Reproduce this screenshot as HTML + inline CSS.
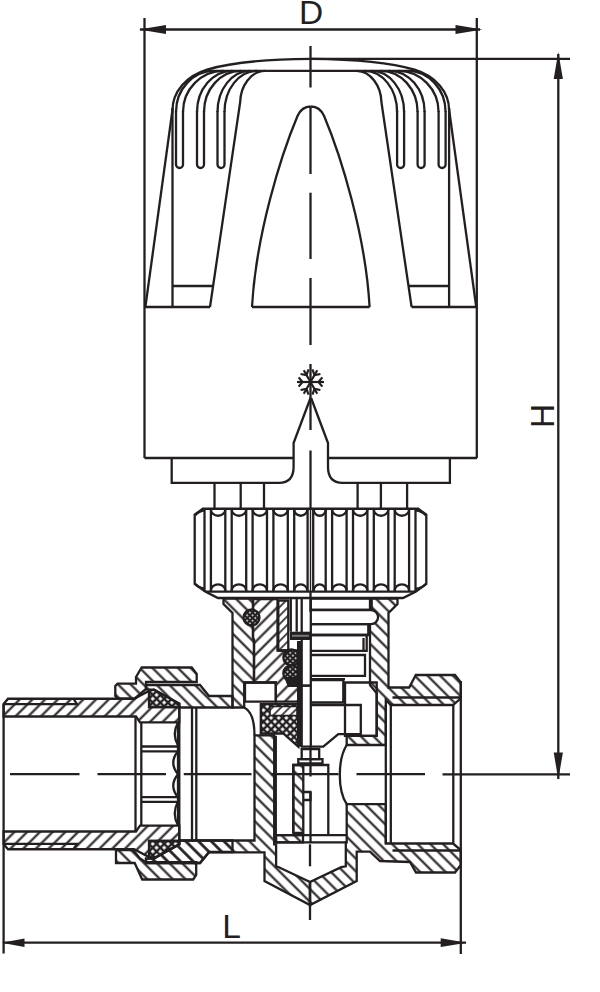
<!DOCTYPE html>
<html><head><meta charset="utf-8"><style>
html,body{margin:0;padding:0;background:#fff;}
svg{display:block;}
</style></head><body>
<svg width="600" height="992" viewBox="0 0 600 992">
<g stroke="#231f20" stroke-width="2.3" fill="none"><line x1="140" y1="29.5" x2="480" y2="29.5"/><line x1="144.5" y1="18" x2="144.5" y2="458"/><line x1="476.8" y1="18" x2="476.8" y2="458"/><line x1="310.5" y1="58.8" x2="570" y2="58.8"/><line x1="558.3" y1="54" x2="558.3" y2="779"/><line x1="442.5" y1="774.3" x2="570" y2="774.3"/><line x1="3" y1="942.7" x2="466" y2="942.7"/><line x1="3.6" y1="704" x2="3.6" y2="953.5"/><line x1="460.8" y1="681" x2="460.8" y2="954"/></g>
<polygon points="139,29.5 166.0,25.1 166.0,33.9" fill="#231f20"/>
<polygon points="482.5,29.5 455.5,33.9 455.5,25.1" fill="#231f20"/>
<polygon points="558.3,52 562.9,79.0 553.6999999999999,79.0" fill="#231f20"/>
<polygon points="558.3,779.5 553.6999999999999,752.5 562.9,752.5" fill="#231f20"/>
<polygon points="1.5,942.7 24.5,938.4000000000001 24.5,947.0" fill="#231f20"/>
<polygon points="466.7,942.7 440.7,947.1 440.7,938.3000000000001" fill="#231f20"/>
<line x1="10" y1="774.2" x2="79.5" y2="774.2" stroke="#231f20" stroke-width="2.3"/>
<line x1="97.5" y1="774.2" x2="166" y2="774.2" stroke="#231f20" stroke-width="2.3"/>
<line x1="183.75" y1="774.2" x2="251.5" y2="774.2" stroke="#231f20" stroke-width="2.3"/>
<line x1="271" y1="774.2" x2="338.5" y2="774.2" stroke="#231f20" stroke-width="2.3"/>
<line x1="356.5" y1="774.2" x2="425" y2="774.2" stroke="#231f20" stroke-width="2.3"/>
<line x1="310" y1="882" x2="310" y2="920" stroke="#231f20" stroke-width="2.3"/>
<text x="311" y="24" font-size="33.5" text-anchor="middle" fill="#231f20" font-family="Liberation Sans">D</text>
<text x="231.5" y="938" font-size="33.5" text-anchor="middle" fill="#231f20" font-family="Liberation Sans">L</text>
<text transform="translate(554,416) rotate(-90)" x="0" y="0" font-size="33.5" text-anchor="middle" fill="#231f20" font-family="Liberation Sans">H</text>
<g id="capL" stroke="#231f20" stroke-width="2.3" fill="none"><path d="M310.5,58.8 C265,59.2 228,63.5 207,69.6 C186,76 172.5,92 172.5,110"/><line x1="172.6" y1="109" x2="145.5" y2="306"/><line x1="207" y1="70.8" x2="310.5" y2="70.8"/><path d="M176,112 C176,89.26 193.02,70.8 214,70.8"/><path d="M183,112 C183,89.26 201.14,70.8 223.5,70.8"/><path d="M197,112 C197,89.26 212.90,70.8 232.5,70.8"/><path d="M204,112 C204,89.26 220.58,70.8 241,70.8"/><path d="M217.5,112 C217.5,89.26 232.06,70.8 250,70.8"/><path d="M224.5,112 C224.5,89.26 239.06,70.8 257,70.8"/><line x1="172.5" y1="108" x2="172.5" y2="307"/><path d="M176,111 L176,164.5 A3.5,3.5 0 0 0 183,164.5 L183,111"/><path d="M197,111 L197,164.5 A3.5,3.5 0 0 0 204,164.5 L204,111"/><path d="M217.5,111 L217.5,164.5 A3.5,3.5 0 0 0 224.5,164.5 L224.5,111"/><path d="M265,70.8 C251,71 240.5,86 240.2,102 L210,307"/><line x1="144.5" y1="307" x2="210" y2="307"/><line x1="172.5" y1="286" x2="213" y2="286"/><path d="M252,307 C256,235 280.7,156 297.5,116 C300.5,109.5 305,106.5 310.5,106.5"/><line x1="252" y1="307" x2="310.5" y2="307"/><line x1="144.5" y1="458" x2="293.6" y2="458"/><path d="M171.7,458 L171.7,482.8 L279,482.8 C288,482.8 293.6,478 293.6,467 L293.6,443 L310.5,398"/><line x1="214.5" y1="482.8" x2="214.5" y2="508.5"/><line x1="240.7" y1="482.8" x2="240.7" y2="508.5"/><line x1="264" y1="482.8" x2="264" y2="508.5"/></g>
<g transform="translate(621.6,0) scale(-1,1)" stroke="#231f20" stroke-width="2.3" fill="none"><path d="M310.5,58.8 C265,59.2 228,63.5 207,69.6 C186,76 172.5,92 172.5,110"/><line x1="172.6" y1="109" x2="145.5" y2="306"/><line x1="207" y1="70.8" x2="310.5" y2="70.8"/><path d="M176,112 C176,89.26 193.02,70.8 214,70.8"/><path d="M183,112 C183,89.26 201.14,70.8 223.5,70.8"/><path d="M197,112 C197,89.26 212.90,70.8 232.5,70.8"/><path d="M204,112 C204,89.26 220.58,70.8 241,70.8"/><path d="M217.5,112 C217.5,89.26 232.06,70.8 250,70.8"/><path d="M224.5,112 C224.5,89.26 239.06,70.8 257,70.8"/><line x1="172.5" y1="108" x2="172.5" y2="307"/><path d="M176,111 L176,164.5 A3.5,3.5 0 0 0 183,164.5 L183,111"/><path d="M197,111 L197,164.5 A3.5,3.5 0 0 0 204,164.5 L204,111"/><path d="M217.5,111 L217.5,164.5 A3.5,3.5 0 0 0 224.5,164.5 L224.5,111"/><path d="M265,70.8 C251,71 240.5,86 240.2,102 L210,307"/><line x1="144.5" y1="307" x2="210" y2="307"/><line x1="172.5" y1="286" x2="213" y2="286"/><path d="M252,307 C256,235 280.7,156 297.5,116 C300.5,109.5 305,106.5 310.5,106.5"/><line x1="252" y1="307" x2="310.5" y2="307"/><line x1="144.5" y1="458" x2="293.6" y2="458"/><path d="M171.7,458 L171.7,482.8 L279,482.8 C288,482.8 293.6,478 293.6,467 L293.6,443 L310.5,398"/><line x1="214.5" y1="482.8" x2="214.5" y2="508.5"/><line x1="240.7" y1="482.8" x2="240.7" y2="508.5"/><line x1="264" y1="482.8" x2="264" y2="508.5"/></g>
<g stroke="#231f20" stroke-width="2.3"><line x1="310.5" y1="46" x2="310.5" y2="87.5"/><line x1="310.5" y1="106" x2="310.5" y2="174"/><line x1="310.5" y1="192.7" x2="310.5" y2="259"/><line x1="310.5" y1="278" x2="310.5" y2="345"/><line x1="310.5" y1="364" x2="310.5" y2="430"/><line x1="310.5" y1="450.5" x2="310.5" y2="509"/><line x1="310.5" y1="591" x2="310.5" y2="612"/></g>
<g stroke="#231f20" stroke-width="2.2" stroke-linecap="butt"><line x1="310.5" y1="382" x2="324.00" y2="382.00"/><line x1="318.50" y1="382.00" x2="322.36" y2="386.60"/><line x1="318.50" y1="382.00" x2="322.36" y2="377.40"/><line x1="310.5" y1="382" x2="317.25" y2="370.31"/><line x1="314.50" y1="375.07" x2="320.41" y2="374.03"/><line x1="314.50" y1="375.07" x2="312.45" y2="369.43"/><line x1="310.5" y1="382" x2="303.75" y2="370.31"/><line x1="306.50" y1="375.07" x2="308.55" y2="369.43"/><line x1="306.50" y1="375.07" x2="300.59" y2="374.03"/><line x1="310.5" y1="382" x2="297.00" y2="382.00"/><line x1="302.50" y1="382.00" x2="298.64" y2="377.40"/><line x1="302.50" y1="382.00" x2="298.64" y2="386.60"/><line x1="310.5" y1="382" x2="303.75" y2="393.69"/><line x1="306.50" y1="388.93" x2="300.59" y2="389.97"/><line x1="306.50" y1="388.93" x2="308.55" y2="394.57"/><line x1="310.5" y1="382" x2="317.25" y2="393.69"/><line x1="314.50" y1="388.93" x2="312.45" y2="394.57"/><line x1="314.50" y1="388.93" x2="320.41" y2="389.97"/></g>
<g stroke="#231f20" stroke-width="2.3" fill="none"><path d="M202.8,508.75 L418.2,508.75 L426.3,514.6 L426.3,584 L416,591.6 L403,598 L218,598 L205.2,591.6 L194.7,584 L194.7,514.6 Z"/><line x1="205.2" y1="591.6" x2="416" y2="591.6"/><line x1="204.5" y1="508.75" x2="204.5" y2="591.6"/><line x1="210.89999999999998" y1="508.75" x2="210.89999999999998" y2="591.6"/><line x1="225.3" y1="508.75" x2="225.3" y2="591.6"/><line x1="231.7" y1="508.75" x2="231.7" y2="591.6"/><line x1="246.20000000000002" y1="508.75" x2="246.20000000000002" y2="591.6"/><line x1="252.6" y1="508.75" x2="252.6" y2="591.6"/><line x1="267.0" y1="508.75" x2="267.0" y2="591.6"/><line x1="273.4" y1="508.75" x2="273.4" y2="591.6"/><line x1="287.8" y1="508.75" x2="287.8" y2="591.6"/><line x1="294.2" y1="508.75" x2="294.2" y2="591.6"/><line x1="307.6" y1="508.75" x2="307.6" y2="591.6"/><line x1="313.2" y1="508.75" x2="313.2" y2="591.6"/><line x1="310.5" y1="508.75" x2="310.5" y2="591.6" stroke-width="1.4"/><line x1="325.7" y1="508.75" x2="325.7" y2="591.6"/><line x1="332.09999999999997" y1="508.75" x2="332.09999999999997" y2="591.6"/><line x1="346.6" y1="508.75" x2="346.6" y2="591.6"/><line x1="353.0" y1="508.75" x2="353.0" y2="591.6"/><line x1="367.40000000000003" y1="508.75" x2="367.40000000000003" y2="591.6"/><line x1="373.8" y1="508.75" x2="373.8" y2="591.6"/><line x1="388.3" y1="508.75" x2="388.3" y2="591.6"/><line x1="394.7" y1="508.75" x2="394.7" y2="591.6"/><line x1="409.1" y1="508.75" x2="409.1" y2="591.6"/><line x1="415.5" y1="508.75" x2="415.5" y2="591.6"/><path d="M210.89999999999998,509.55 A7.200000000000017,6.2 0 0 0 225.3,509.55"/><path d="M210.89999999999998,590.8000000000001 A7.200000000000017,6.5 0 0 1 225.3,590.8000000000001"/><path d="M231.7,509.55 A7.250000000000014,6.2 0 0 0 246.20000000000002,509.55"/><path d="M231.7,590.8000000000001 A7.250000000000014,6.5 0 0 1 246.20000000000002,590.8000000000001"/><path d="M252.6,509.55 A7.200000000000003,6.2 0 0 0 267.0,509.55"/><path d="M252.6,590.8000000000001 A7.200000000000003,6.5 0 0 1 267.0,590.8000000000001"/><path d="M273.4,509.55 A7.200000000000017,6.2 0 0 0 287.8,509.55"/><path d="M273.4,590.8000000000001 A7.200000000000017,6.5 0 0 1 287.8,590.8000000000001"/><path d="M294.2,509.55 A6.550000000000011,6.2 0 0 0 307.3,509.55"/><path d="M294.2,590.8000000000001 A6.550000000000011,6.5 0 0 1 307.3,590.8000000000001"/><path d="M313.7,509.55 A6.0,6.2 0 0 0 325.7,509.55"/><path d="M313.7,590.8000000000001 A6.0,6.5 0 0 1 325.7,590.8000000000001"/><path d="M332.09999999999997,509.55 A7.250000000000028,6.2 0 0 0 346.6,509.55"/><path d="M332.09999999999997,590.8000000000001 A7.250000000000028,6.5 0 0 1 346.6,590.8000000000001"/><path d="M353.0,509.55 A7.200000000000017,6.2 0 0 0 367.40000000000003,509.55"/><path d="M353.0,590.8000000000001 A7.200000000000017,6.5 0 0 1 367.40000000000003,590.8000000000001"/><path d="M373.8,509.55 A7.25,6.2 0 0 0 388.3,509.55"/><path d="M373.8,590.8000000000001 A7.25,6.5 0 0 1 388.3,590.8000000000001"/><path d="M394.7,509.55 A7.200000000000017,6.2 0 0 0 409.1,509.55"/><path d="M394.7,590.8000000000001 A7.200000000000017,6.5 0 0 1 409.1,590.8000000000001"/><path d="M195.3,515.2 Q199,511 204.5,510.3"/><path d="M425.7,515.2 Q422,511 415.5,510.3"/><path d="M195.3,584 Q199,588 204.5,589"/><path d="M425.7,584 Q422,588 415.5,589"/></g>
<defs>
<pattern id="hs" patternUnits="userSpaceOnUse" width="9" height="9" patternTransform="rotate(45)"><line x1="4.5" y1="-1" x2="4.5" y2="10" stroke="#231f20" stroke-width="2.1"/></pattern>
<pattern id="hb" patternUnits="userSpaceOnUse" width="9" height="9" patternTransform="rotate(-45)"><line x1="4.5" y1="-1" x2="4.5" y2="10" stroke="#231f20" stroke-width="2.1"/></pattern>
<pattern id="hs6" patternUnits="userSpaceOnUse" width="6" height="6" patternTransform="rotate(45)"><line x1="3" y1="-1" x2="3" y2="7" stroke="#231f20" stroke-width="1.6"/></pattern>
<pattern id="hx" patternUnits="userSpaceOnUse" width="5.4" height="5.4" patternTransform="rotate(45)"><rect width="5.4" height="5.4" fill="#231f20"/><rect x="1.2" y="1.2" width="3" height="3" fill="#fff"/></pattern>
<pattern id="dots" patternUnits="userSpaceOnUse" width="3.8" height="3.8" patternTransform="rotate(45)"><rect width="3.8" height="3.8" fill="#231f20"/><circle cx="1.9" cy="1.9" r="0.85" fill="#fff"/></pattern>
</defs>
<path d="M3.60,704.00 L8.00,698.75 L134.00,698.75 L149.00,691.00 L149.00,707.00 L179.30,707.00 L179.30,722.30 L140.00,722.30 L136.00,716.50 L3.60,716.50 Z" fill="url(#hs)" stroke="#231f20" stroke-width="2.3" stroke-linejoin="miter"/>
<path d="M3.60,844.00 L8.00,849.25 L134.00,849.25 L149.00,857.00 L149.00,841.00 L179.30,841.00 L179.30,825.70 L140.00,825.70 L136.00,831.50 L3.60,831.50 Z" fill="url(#hs)" stroke="#231f20" stroke-width="2.3" stroke-linejoin="miter"/>
<path d="M146.00,685.00 L200.00,685.00 L209.00,696.00 L232.50,696.00 L232.50,707.50 L179.30,707.50 L179.30,703.70 L154.00,689.70 L146.00,689.50 Z" fill="url(#hb)" stroke="#231f20" stroke-width="2.3" stroke-linejoin="miter"/>
<path d="M146.00,863.00 L200.00,863.00 L209.00,852.00 L232.50,852.00 L232.50,840.50 L179.30,840.50 L179.30,844.30 L154.00,858.30 L146.00,858.50 Z" fill="url(#hb)" stroke="#231f20" stroke-width="2.3" stroke-linejoin="miter"/>
<path d="M141.70,667.50 L191.70,667.50 L196.70,674.00 L196.70,682.00 L146.00,682.00 L146.00,689.00 L134.50,698.75 L118.00,698.75 L115.30,696.00 L115.30,686.00 L117.50,683.70 L136.00,683.70 L136.00,677.00 Z" fill="url(#hb)" stroke="#231f20" stroke-width="2.3" stroke-linejoin="miter"/>
<path d="M116.00,850.20 L133.20,850.20 L140.00,858.50 L146.00,862.20 L196.20,862.20 L196.20,875.00 L193.20,879.50 L142.20,879.50 L134.70,863.00 L116.00,863.00 Z" fill="url(#hb)" stroke="#231f20" stroke-width="2.3" stroke-linejoin="miter"/>
<path d="M149.30,691.00 L149.30,707.00 L179.30,707.00 L179.30,703.70 L154.00,689.70 Z" fill="url(#hx)" stroke="#231f20" stroke-width="2.3" stroke-linejoin="miter"/>
<path d="M149.30,857.00 L149.30,841.00 L179.30,841.00 L179.30,844.30 L154.00,858.30 Z" fill="url(#hx)" stroke="#231f20" stroke-width="2.3" stroke-linejoin="miter"/>
<path d="M232.50,696.00 L232.50,613.00 L223.50,604.00 L223.50,598.50 L253.00,598.50 L253.00,638.00 L254.00,640.00 L254.00,682.50 L244.20,682.50 L244.20,707.50 L232.50,707.50 Z" fill="url(#hb)" stroke="#231f20" stroke-width="2.3" stroke-linejoin="miter"/>
<path d="M254.00,599.00 L277.50,599.00 L277.50,650.50 L298.30,650.50 L298.30,701.70 L275.80,701.70 L275.80,682.50 L254.00,682.50 L254.00,640.00 L253.00,638.00 L253.00,599.00 Z" fill="url(#hs)" stroke="#231f20" stroke-width="2.3" stroke-linejoin="miter"/>
<path d="M278.30,600.50 L288.30,600.50 L288.30,650.50 L278.30,650.50 Z" fill="url(#hs6)" stroke="#231f20" stroke-width="2.3" stroke-linejoin="miter"/>
<path d="M370.00,598.50 L397.50,598.50 L397.50,604.00 L388.50,613.00 L388.50,687.50 L409.20,687.50 L415.80,675.00 L455.00,675.00 L460.80,682.50 L460.80,698.30 L453.00,705.00 L390.80,705.00 L385.80,700.00 L385.80,745.00 L346.70,745.00 L346.70,735.80 L376.70,735.80 L376.70,693.30 L370.00,685.00 Z" fill="url(#hb)" stroke="#231f20" stroke-width="2.3" stroke-linejoin="miter"/>
<path d="M346.70,804.20 L385.80,804.20 L385.80,843.50 L453.00,843.50 L460.80,850.00 L460.80,865.00 L455.00,872.50 L416.00,872.50 L410.00,862.00 L380.00,861.00 L370.00,851.70 L356.70,851.70 L356.70,881.00 L310.00,905.00 L310.00,882.00 L341.20,867.20 L345.80,866.30 L345.80,842.40 L346.70,842.40 Z" fill="url(#hb)" stroke="#231f20" stroke-width="2.3" stroke-linejoin="miter"/>
<path d="M146.00,863.00 L200.00,863.00 L209.00,852.30 L264.50,852.30 L264.50,881.00 L310.00,905.00 L310.00,882.00 L278.80,867.20 L276.10,866.30 L276.10,844.30 L274.20,844.30 L274.20,735.30 L254.50,735.30 L254.50,840.50 L179.30,840.50 L179.30,844.30 L154.00,858.30 L146.00,858.50 Z" fill="url(#hb)" stroke="#231f20" stroke-width="2.3" stroke-linejoin="miter"/>
<g stroke="#231f20" stroke-width="2.3" fill="none"><path d="M3.6,704.2 L77,704.2 L73.5,698.75"/><path d="M3.6,843.8 L77,843.8 L73.5,849.25"/><line x1="135.5" y1="716.5" x2="135.5" y2="831.5"/><line x1="141.3" y1="722.3" x2="141.3" y2="825.7"/><line x1="141.3" y1="746.5" x2="178" y2="746.5"/><line x1="141.3" y1="751.3" x2="178" y2="751.3"/><line x1="141.3" y1="797.2" x2="178" y2="797.2"/><line x1="141.3" y1="801.8" x2="178" y2="801.8"/><line x1="178" y1="722.3" x2="178" y2="825.7"/><path d="M178,722.5 Q171.5,734.0 178,745.5 M178,751.3 Q168.5,762.75 178,774.2 M178,774.2 Q168.5,785.7 178,797.2 M178,801.5 Q171.5,813.5 178,825.5 "/><line x1="179.3" y1="707.5" x2="179.3" y2="840.5"/><line x1="192" y1="707.5" x2="192" y2="840.5"/><line x1="196.3" y1="707.5" x2="196.3" y2="840.5"/><path d="M244.2,707.5 C251,711 254.5,722 254.5,735.3"/><path d="M245,682.5 L275.8,682.5 L275.8,701.7 L245,701.7 Z"/><line x1="298.3" y1="650.5" x2="298.3" y2="746.7"/><line x1="290.8" y1="598.5" x2="290.8" y2="631.7"/><line x1="296.7" y1="598.5" x2="296.7" y2="631.7"/><line x1="301.7" y1="598.5" x2="301.7" y2="746.7"/><path d="M310.8,598.5 L371.7,598.5 L371.7,610 L310.8,610"/><path d="M310.8,610 L371,610 A7.1,7.1 0 0 1 371,624.2 L310.8,624.2" fill="#fff"/><path d="M310.8,624.2 L368.3,624.2 L368.3,635 L310.8,635"/><path d="M310.8,635 L366.7,635 L366.7,650.8 L310.8,650.8"/><line x1="363.5" y1="638" x2="363.5" y2="650.8"/><path d="M310.8,655 L365,655 L365,675.8 L310.8,675.8"/><path d="M310.8,679.2 L345,679.2"/><path d="M345,682.5 L376.7,682.5 L376.7,735.8 L345,735.8 Z"/><path d="M310.8,680 L343.3,680 L343.3,702.5 L310.8,702.5"/><path d="M310.8,705 L360.8,705 L360.8,734.2 L338.3,734.2 L323.3,746.7 L300.8,746.7"/><line x1="310.8" y1="598.5" x2="310.8" y2="746.7"/><path d="M301.7,749.2 L319.2,749.2 L319.2,759.2 L301.7,759.2 Z"/><path d="M298.3,759.2 L322.5,759.2 L322.5,763.3 L298.3,763.3 Z"/><path d="M293.3,833 L293.3,765 L328.3,765 L328.3,835.2"/><line x1="275.8" y1="735.8" x2="275.8" y2="835.2"/><path d="M346.7,745 C337.5,760 337.5,790 346.7,804.2"/><path d="M273.8,835.2 L346.2,835.2"/><path d="M276.1,842.4 L346.2,842.4"/><line x1="310" y1="844.3" x2="310" y2="866.3"/><line x1="385.8" y1="705" x2="385.8" y2="843.5"/><line x1="390.8" y1="705" x2="390.8" y2="843.5"/><line x1="453.3" y1="705" x2="453.3" y2="843.5"/><path d="M392.5,697.5 L460.8,697.5"/><path d="M392.5,850.5 L460.8,850.5"/></g>
<path d="M293.3,765 L303.3,765 L303.3,833 L293.3,833 Z" fill="url(#hb)" stroke="#231f20" stroke-width="2.3"/>
<path d="M303.3,792 L310.5,792 L310.5,800 L303.3,800" fill="none" stroke="#231f20" stroke-width="2.3"/>
<line x1="310.5" y1="746.7" x2="310.5" y2="776.5" stroke="#231f20" stroke-width="2.3"/>
<line x1="310.5" y1="792" x2="310.5" y2="842.4" stroke="#231f20" stroke-width="2.3"/>
<path d="M276.1,835.2 L303,835.2 L303,842.4 L276.1,842.4 Z" fill="url(#hb)" stroke="#231f20" stroke-width="2.3"/>
<path d="M260.8,704.2 L298.3,704.2 L298.3,746.7 L283.3,733.5 L260.8,733.5 Z" fill="url(#hx)" stroke="#231f20" stroke-width="2.3"/>
<path d="M270,706.5 L297,706.5 L297,715.5 L270,715.5 Z" fill="#fff"/>
<path d="M270,706.5 L297,706.5 L297,715.5 L270,715.5 Z" fill="url(#hs6)" stroke="#231f20" stroke-width="1.6"/>
<circle cx="251.5" cy="617.5" r="8" fill="url(#dots)" stroke="#231f20" stroke-width="2.3"/>
<circle cx="291.3" cy="657.5" r="8" fill="url(#dots)" stroke="#231f20" stroke-width="2.3"/>
<circle cx="291.3" cy="673.3" r="8" fill="url(#dots)" stroke="#231f20" stroke-width="2.3"/>
<path d="M284,677 L299.5,677 L299.5,687 L288,687 Z" fill="#231f20"/>
<rect x="297" y="641" width="4.2" height="105.7" fill="#231f20"/>
<rect x="300" y="684.3" width="11" height="2.6" fill="#231f20"/>
<rect x="290" y="631.7" width="20.5" height="8.3" fill="#231f20"/>
<rect x="292" y="634.8" width="17" height="2" fill="#777"/>
</svg>
</body></html>
